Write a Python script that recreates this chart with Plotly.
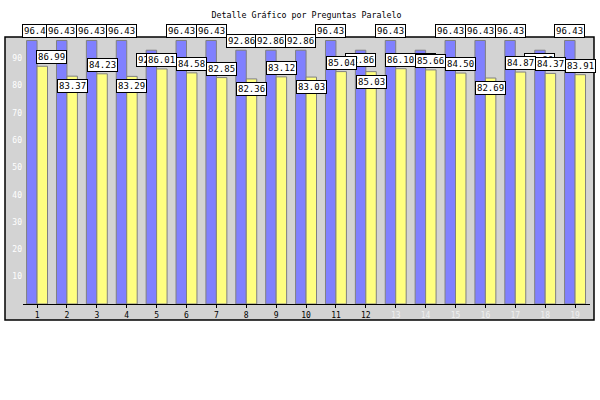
import plotly.graph_objects as go

categories = list(range(1, 19 + 1))
serie_azul = [96.43, 96.43, 96.43, 96.43, 92.86, 96.43, 96.43, 92.86, 92.86, 92.86,
              96.43, 92.86, 96.43, 92.86, 96.43, 96.43, 96.43, 92.86, 96.43]
serie_amarilla = [86.99, 83.37, 84.23, 83.29, 86.01, 84.58, 82.85, 82.36, 83.12, 83.03,
                  85.04, 85.03, 86.10, 85.66, 84.50, 82.69, 84.87, 84.37, 83.91]
tick_labels = [str(c) for c in categories]
y_ticks = [10, 20, 30, 40, 50, 60, 70, 80, 90]

# label placement styles: 1 = above bar top, -1 = below bar top
pos_azul = [1, 1, 1, 1, -1, 1, 1, 1, 1, 1, 1, -1, 1, -1, 1, 1, 1, -1, 1]
pos_amarilla = [1, -1, 1, -1, 1, 1, 1, -1, 1, -1, 1, -1, 1, 1, 1, -1, 1, 1, 1]
shift_azul = [6] + [0] * 18
shift_amarilla = [9] + [0] * 18
light_ticks = [False] * 12 + [True] * 7

BLUE = "#8080ff"
YELLOW = "#ffff80"
GRID_GRAY = "#d3d3d3"
MONO = "DejaVu Sans Mono"
bargap = 0.3
half = (1 - bargap) / 4

fig = go.Figure()
fig.add_trace(go.Bar(x=categories, y=serie_azul, marker=dict(color=BLUE, line=dict(color="#808080", width=1)),
                     name="A"))
fig.add_trace(go.Bar(x=categories, y=serie_amarilla, marker=dict(color=YELLOW, line=dict(color="#808080", width=1)),
                     name="B"))

annotations = []
for vals, pos, shifts, off in ((serie_azul, pos_azul, shift_azul, -half),
                                (serie_amarilla, pos_amarilla, shift_amarilla, half)):
    for c, v, p, s in zip(categories, vals, pos, shifts):
        annotations.append(dict(
            x=c + off, y=v, xref="x", yref="y", text=f"{v:.2f}", showarrow=False,
            xanchor="center", yanchor="bottom" if p > 0 else "top",
            yshift=2 if p > 0 else -3, xshift=s,
            bgcolor="white", bordercolor="black", borderwidth=1, borderpad=1,
            font=dict(family=MONO, size=9, color="black")))

ticktext = [f'<span style="color:#f0f0f0">{t}</span>' if l else t for t, l in zip(tick_labels, light_ticks)]

fig.update_layout(
    width=600, height=400,
    margin=dict(l=23, r=10, t=37, b=96),
    paper_bgcolor="white", plot_bgcolor=GRID_GRAY,
    barmode="group", bargap=bargap, bargroupgap=0,
    showlegend=False,
    title=dict(text="Detalle Gráfico por Preguntas Paralelo", x=0.5, xanchor="center",
               y=1 - 15 / 400, yanchor="middle", xref="paper",
               font=dict(family=MONO, size=8.3, color="black")),
    annotations=annotations,
    shapes=[dict(type="rect", xref="paper", yref="paper", x0=-18 / 567, x1=(594 - 23) / 567,
                 y0=-16 / 267, y1=1.0, fillcolor=GRID_GRAY, line=dict(color="black", width=1.5),
                 layer="below")],
    font=dict(family=MONO, size=8, color="black"),
)
fig.update_xaxes(range=[0.53, 19.5], tickvals=categories, ticktext=ticktext,
                 showline=True, linecolor="black", linewidth=1, ticks="outside", ticklen=3,
                 tickcolor="black", showgrid=False, zeroline=False,
                 tickfont=dict(family=MONO, size=8, color="black"))
fig.update_yaxes(range=[0, 97.7], tickvals=y_ticks, showgrid=False, zeroline=False, showline=False,
                 tickfont=dict(family=MONO, size=8, color="white"), ticks="")

fig.write_html("out.html")
